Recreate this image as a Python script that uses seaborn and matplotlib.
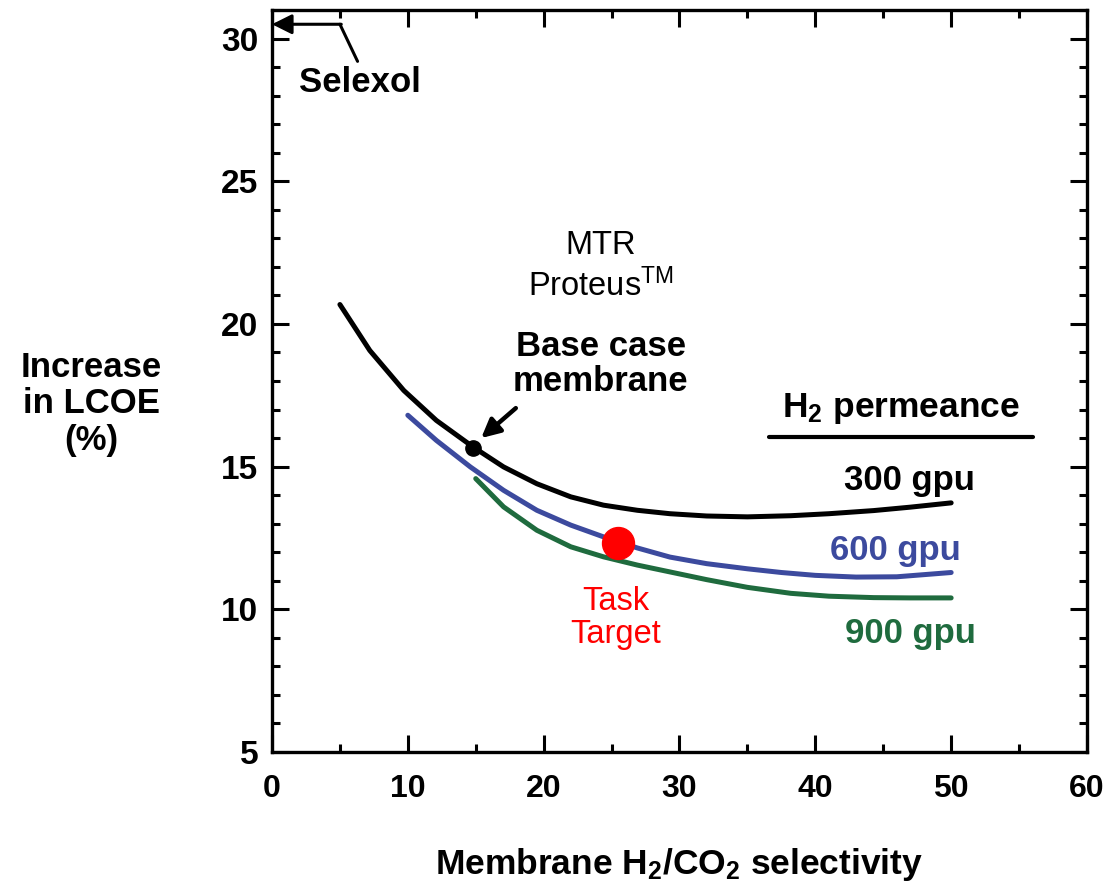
import pandas as pd
import numpy as np
import matplotlib
matplotlib.use("Agg")
import matplotlib.pyplot as plt
from matplotlib.ticker import MultipleLocator
import seaborn as sns

# values
sel_300 = [5, 7.2, 9.7, 12.1, 14.8, 17.05, 19.5, 22, 24.4, 26.9, 29.3, 32, 35, 38.2, 41, 44.3, 47, 50]
lcoe_300 = [20.68, 19.07, 17.67, 16.62, 15.69, 14.99, 14.4, 13.94, 13.65, 13.47, 13.35, 13.27, 13.24,
            13.28, 13.35, 13.46, 13.58, 13.73]

sel_600 = [10, 12.1, 14.6, 17.05, 19.5, 22, 24.4, 26.9, 29.3, 32, 35, 37.5, 40, 43, 46, 50]
lcoe_600 = [16.8, 15.92, 14.99, 14.17, 13.47, 12.95, 12.54, 12.15, 11.83, 11.6, 11.42, 11.29, 11.19,
            11.13, 11.14, 11.29]

sel_900 = [15, 17.05, 19.5, 22, 24.4, 26.9, 29.3, 32, 35, 38.2, 41, 44.3, 47, 50]
lcoe_900 = [14.58, 13.59, 12.77, 12.19, 11.84, 11.55, 11.31, 11.04, 10.77, 10.56, 10.46, 10.41, 10.4, 10.4]

base_case = (14.8, 15.67)
task_target = (25.5, 12.33)

permeance_labels = ["300 gpu", "600 gpu", "900 gpu"]
colors = {"300 gpu": "#000000", "600 gpu": "#3C4A9E", "900 gpu": "#1F6B3E"}

df = pd.concat([
    pd.DataFrame({"selectivity": sel_300, "lcoe": lcoe_300, "permeance": "300 gpu"}),
    pd.DataFrame({"selectivity": sel_600, "lcoe": lcoe_600, "permeance": "600 gpu"}),
    pd.DataFrame({"selectivity": sel_900, "lcoe": lcoe_900, "permeance": "900 gpu"}),
], ignore_index=True)

sns.set_theme(style="ticks")
plt.rcParams["font.family"] = ["Liberation Sans", "DejaVu Sans"]
plt.rcParams["mathtext.default"] = "regular"
plt.rcParams["text.color"] = "black"
plt.rcParams["axes.labelcolor"] = "black"
plt.rcParams["xtick.color"] = "black"
plt.rcParams["ytick.color"] = "black"

fig = plt.figure(figsize=(11.12, 8.84), dpi=100)
ax = fig.add_axes([0.2446, 0.1493, 0.7329, 0.8394])

sns.lineplot(data=df, x="selectivity", y="lcoe", hue="permeance", palette=colors,
             hue_order=permeance_labels, estimator=None, sort=True, linewidth=3.6,
             legend=False, ax=ax)
for ln in ax.get_lines():
    ln.set_solid_joinstyle("round")
    ln.set_solid_capstyle("round")

# base case point and task target
ax.plot(*base_case, "o", color="black", markersize=11, zorder=5)
ax.plot(*task_target, "o", color="#FF0000", markersize=23, zorder=6)

ax.set_xlim(0, 60)
ax.set_ylim(5, 31)
ax.xaxis.set_major_locator(MultipleLocator(10))
ax.xaxis.set_minor_locator(MultipleLocator(5))
ax.yaxis.set_major_locator(MultipleLocator(5))
ax.yaxis.set_minor_locator(MultipleLocator(1))
ax.tick_params(which="both", direction="in", top=True, right=True, width=2.2, color="black")
ax.tick_params(which="major", length=12)
ax.tick_params(which="minor", length=6)
ax.tick_params(axis="y", which="major", pad=10, labelsize=24)
ax.tick_params(axis="x", which="major", pad=16, labelsize=23)
for lab in ax.get_xticklabels() + ax.get_yticklabels():
    lab.set_fontweight("bold")
for sp in ax.spines.values():
    sp.set_linewidth(2.4)
    sp.set_color("black")

ax.set_xlabel("Membrane H$_2$/CO$_2$ selectivity", fontsize=25.5, fontweight="bold", labelpad=30)
ax.set_ylabel("")
fig.text(0.082, 0.543, "Increase\nin LCOE\n(%)", ha="center", va="center",
         fontsize=25, fontweight="bold", linespacing=1.15)

# Selexol arrow
ax.annotate("", xy=(0, 30.5), xytext=(5.1, 30.5),
            arrowprops=dict(arrowstyle="-|>", color="black", lw=2.2,
                            mutation_scale=30, shrinkA=0, shrinkB=0))
ax.plot([5.0, 6.3], [30.5, 29.2], color="black", lw=2.2, clip_on=False)
ax.text(2.0, 28.45, "Selexol", fontsize=25, fontweight="bold", va="center")

ax.text(24.2, 22.75, "MTR", fontsize=23.5, ha="center", va="center")
ax.text(24.2, 21.35, "Proteus$^{TM}$", fontsize=23.5, ha="center", va="center")
ax.text(24.2, 18.6, "Base case\nmembrane", fontsize=25, fontweight="bold",
        ha="center", va="center", linespacing=1.1)
ax.annotate("", xy=(15.4, 16.0), xytext=(17.95, 17.05),
            arrowprops=dict(arrowstyle="-|>", color="black", lw=3.2,
                            mutation_scale=28, shrinkA=0, shrinkB=0))

ax.text(46.3, 17.05, "H$_2$ permeance", fontsize=25.5, fontweight="bold",
        ha="center", va="center")
ax.plot([36.6, 56.0], [16.03, 16.03], color="black", lw=3)
ax.text(46.9, 14.5, "300 gpu", fontsize=25, fontweight="bold", ha="center",
        va="center", color=colors["300 gpu"])
ax.text(45.9, 12.05, "600 gpu", fontsize=25, fontweight="bold", ha="center",
        va="center", color=colors["600 gpu"])
ax.text(47.0, 9.15, "900 gpu", fontsize=25, fontweight="bold", ha="center",
        va="center", color=colors["900 gpu"])

ax.text(25.3, 9.7, "Task\nTarget", fontsize=23.5, color="#FF0000", ha="center",
        va="center", linespacing=1.1)

fig.savefig("out.png", dpi=100)
